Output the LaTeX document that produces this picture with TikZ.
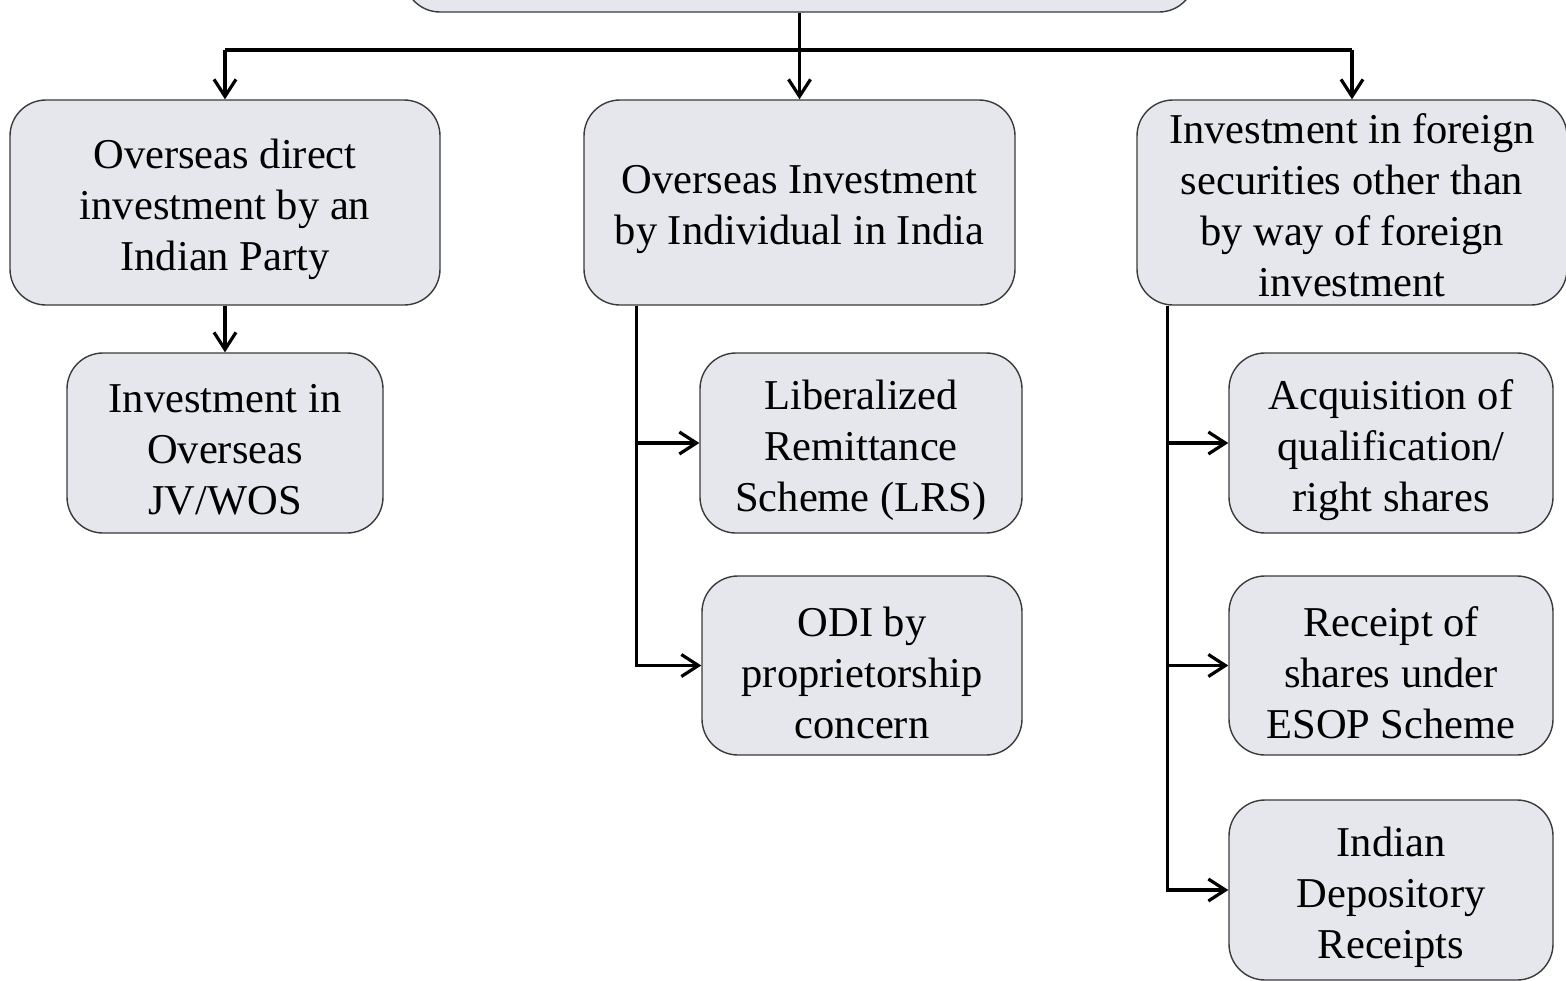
\documentclass[tikz,border=0pt]{standalone}
\usepackage{fontspec}
\setmainfont{Liberation Serif}
\usetikzlibrary{arrows.meta}
\definecolor{boxfill}{HTML}{E6E7EC}
\definecolor{boxline}{HTML}{3A3A3A}
\begin{document}
\begin{tikzpicture}[x=1pt,y=-1pt,
  box/.style={draw=boxline, line width=1.4pt, fill=boxfill, rounded corners=36pt,
    inner sep=0pt},
  txt/.style={align=center, inner sep=0pt, font=\fontsize{42.5}{51}\selectfont},
  conn/.style={line width=3.2pt, black},
  arr/.style={conn, -{Straight Barb[length=17pt,width=22pt,line width=3.2pt]}}]
\useasboundingbox (0,0) rectangle (1566,980);
\clip (0,0) rectangle (1566,980);
\node[box, minimum width=791pt, minimum height=140pt] (top) at (799.5,-58) {};
\node[box, minimum width=430pt, minimum height=205pt] (A) at (225,202.5) {};
\node[txt] (At) at ([yshift=-7pt]A.center) {Overseas direct\\investment by an\\Indian Party};
\node[box, minimum width=316pt, minimum height=180pt] (A1) at (225,443) {};
\node[txt] (A1t) at ([yshift=-7pt]A1.center) {Investment in\\Overseas\\JV/WOS};
\node[box, minimum width=431pt, minimum height=205pt] (B) at (799.5,202.5) {};
\node[txt] (Bt) at ([yshift=-7pt]B.center) {Overseas Investment\\by Individual in India};
\node[box, minimum width=322pt, minimum height=180pt] (B1) at (861,443) {};
\node[txt] (B1t) at ([yshift=-7pt]B1.center) {Liberalized\\Remittance\\Scheme (LRS)};
\node[box, minimum width=320pt, minimum height=179pt] (B2) at (862,665.5) {};
\node[txt] (B2t) at ([yshift=-7pt]B2.center) {ODI by\\proprietorship\\concern};
\node[box, minimum width=430pt, minimum height=205pt] (C) at (1352,202.5) {};
\node[txt] (Ct) at ([yshift=-3pt]C.center) {Investment in foreign\\securities other than\\by way of foreign\\investment};
\node[box, minimum width=324pt, minimum height=180pt] (C1) at (1391,443) {};
\node[txt] (C1t) at ([yshift=-7pt]C1.center) {Acquisition of\\qualification/\\right shares};
\node[box, minimum width=324pt, minimum height=179pt] (C2) at (1391,665.5) {};
\node[txt] (C2t) at ([yshift=-7pt]C2.center) {Receipt of\\shares under\\ESOP Scheme};
\node[box, minimum width=324pt, minimum height=180pt] (C3) at (1391,890) {};
\node[txt] (C3t) at ([yshift=-7pt]C3.center) {Indian\\Depository\\Receipts};
\coordinate (h) at (799.5,50);
\draw[arr] (top.south) -- (B.north);
\draw[conn] (h -| A.north) -- (h -| C.north);
\draw[arr] (h -| A.north) -- (A.north);
\draw[arr] (h -| C.north) -- (C.north);
\draw[arr] (A.south) -- (A1.north);
\coordinate (bt) at ([xshift=53pt]B.south west);
\draw[arr] (bt) |- (B1.west);
\draw[arr] (bt) |- (B2.west);
\coordinate (ct) at ([xshift=31pt]C.south west);
\draw[arr] (ct) |- (C1.west);
\draw[arr] (ct) |- (C2.west);
\draw[arr] (ct) |- (C3.west);
\end{tikzpicture}
\end{document}
